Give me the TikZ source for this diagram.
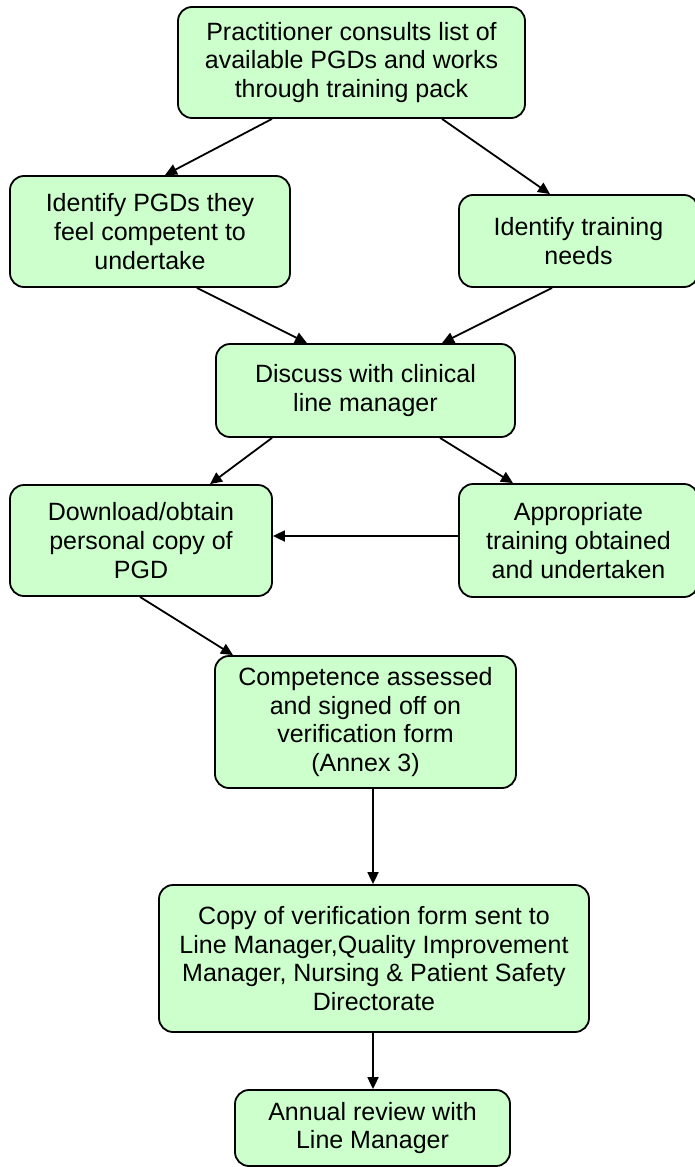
\documentclass[tikz,border=0pt]{standalone}
\usepackage{fontspec}
\setmainfont{Liberation Sans}
\usetikzlibrary{arrows.meta}
\definecolor{boxfill}{HTML}{CCFFCC}
\begin{document}
\begin{tikzpicture}[x=1pt,y=-1pt,
  flowbox/.style={draw=black,line width=1.8pt,fill=boxfill,rounded corners=14pt,
    align=center,inner sep=0pt,font=\fontsize{25}{28.75}\selectfont,anchor=center},
  arr/.style={draw=black,line width=1.8pt,-{Triangle[length=12pt,width=11pt]}}]
\useasboundingbox (0,0) rectangle (695,1167);
\begin{scope}
\clip (0,0) rectangle (695,1167);
\node[flowbox,minimum width=347pt,minimum height=111pt] (top) at (351.5,62.5)
  {Practitioner consults list of\\available PGDs and works\\through training pack};
\node[flowbox,minimum width=280pt,minimum height=111pt] (pgd) at (150,231.5)
  {Identify PGDs they\\feel competent to\\undertake};
\node[flowbox,minimum width=239pt,minimum height=92pt] (trn) at (578.5,241)
  {Identify training\\needs};
\node[flowbox,minimum width=299pt,minimum height=93pt] (disc) at (365.5,390.5)
  {Discuss with clinical\\line manager};
\node[flowbox,minimum width=262pt,minimum height=111pt] (dl) at (141,540.5)
  {Download/obtain\\personal copy of\\PGD};
\node[flowbox,minimum width=239pt,minimum height=113pt] (app) at (578.5,540.5)
  {Appropriate\\training obtained\\and undertaken};
\node[flowbox,minimum width=301pt,minimum height=132pt] (comp) at (365.5,722)
  {Competence assessed\\and signed off on\\verification form\\(Annex 3)};
\node[flowbox,minimum width=430pt,minimum height=147pt] (copy) at (374,958.5)
  {Copy of verification form sent to\\Line Manager,Quality Improvement\\Manager, Nursing \& Patient Safety\\Directorate};
\node[flowbox,minimum width=275pt,minimum height=76pt] (ann) at (372.5,1128)
  {Annual review with\\Line Manager};
\end{scope}
\draw[arr] ([xshift=-79.5pt]top.south) -- ([xshift=15pt]pgd.north);
\draw[arr] ([xshift=90.5pt]top.south) -- ([xshift=-28.5pt]trn.north);
\draw[arr] ([xshift=47pt]pgd.south) -- ([xshift=-58.5pt]disc.north);
\draw[arr] ([xshift=-26.5pt]trn.south) -- ([xshift=76.5pt]disc.north);
\draw[arr] ([xshift=-93.5pt]disc.south) -- ([xshift=69pt]dl.north);
\draw[arr] ([xshift=74.5pt]disc.south) -- ([xshift=-65.5pt]app.north);
\draw[arr] ([yshift=4.5pt]app.west) -- ([yshift=4.5pt]dl.east);
\draw[arr] ([xshift=-1pt]dl.south) -- ([xshift=-132.5pt]comp.north);
\draw[arr] ([xshift=7.5pt]comp.south) -- ([xshift=-1pt]copy.north);
\draw[arr] ([xshift=-1pt]copy.south) -- ([xshift=0.5pt]ann.north);
\end{tikzpicture}
\end{document}
